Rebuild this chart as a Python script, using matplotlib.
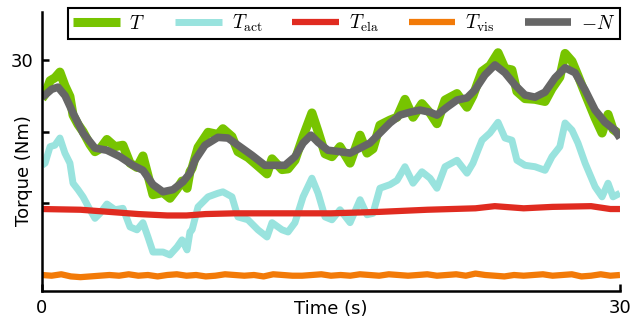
import numpy as np
import matplotlib
matplotlib.use("Agg")
import matplotlib.pyplot as plt

plt.rcParams['mathtext.fontset'] = 'cm'
plt.rcParams['font.family'] = 'DejaVu Sans'

# total torque and actuator torque, sampled together
t_fast = [0, 0.16, 0.42, 0.67, 0.93, 1.19, 1.45, 1.61, 1.87, 2.13, 2.49, 2.75, 3.01, 3.37,
          3.79, 4.20, 4.57, 4.93, 5.24, 5.50, 5.76, 6.28, 6.64, 7.01, 7.27, 7.53, 7.68, 7.79,
          8.10, 8.62, 9.13, 9.39, 9.86, 10.17, 10.69, 11.21, 11.68, 11.94, 12.46, 12.77, 13.13,
          13.55, 14.01, 14.33, 14.69, 15.05, 15.47, 15.99, 16.51, 16.87, 17.18, 17.54, 18.06,
          18.43, 18.84, 19.26, 19.72, 20.14, 20.50, 20.92, 21.54, 22.06, 22.37, 22.63, 22.84,
          23.25, 23.67, 24.03, 24.39, 24.65, 25.07, 25.59, 26.11, 26.47, 26.88, 27.15, 27.51,
          27.82, 28.19, 28.71, 29.07, 29.38, 29.64, 30.0]
T_act = [15.3, 15.6, 17.9, 18.1, 19.1, 17.0, 15.6, 12.8, 11.9, 10.9, 9.1, 7.9, 8.6, 9.9,
         9.1, 9.3, 6.7, 6.3, 7.3, 5.3, 3.2, 3.2, 2.8, 3.9, 4.9, 3.5, 6.0, 6.3,
         9.5, 10.9, 11.4, 11.6, 10.9, 8.1, 7.7, 6.3, 5.3, 7.3, 6.3, 6.0, 7.3,
         10.9, 13.5, 11.4, 8.1, 7.7, 9.1, 7.3, 10.5, 8.4, 8.6, 12.1, 12.6,
         13.2, 15.1, 12.8, 14.4, 13.5, 12.1, 15.1, 16.0, 14.2, 15.6, 17.4, 18.8,
         19.8, 21.3, 19.1, 18.8, 16.0, 15.3, 15.1, 14.6, 16.5, 17.9, 21.2, 20.2,
         18.4, 15.6, 12.3, 10.9, 12.8, 10.9, 11.4]
T_total = [24.6, 25.2, 27.1, 27.5, 28.3, 26.4, 24.9, 22.3, 21.0, 20.0, 18.2, 17.2, 17.6, 18.9,
           17.9, 18.1, 15.6, 15.0, 16.6, 13.9, 11.2, 11.5, 10.7, 12.0, 13.1, 12.1, 14.4, 14.9,
           17.8, 19.9, 19.6, 20.4, 19.3, 17.2, 16.4, 15.2, 14.1, 16.2, 14.7, 14.8, 16.0,
           19.3, 22.6, 20.0, 16.9, 16.5, 17.9, 15.6, 19.5, 17.0, 17.6, 20.9, 21.6,
           22.0, 24.5, 22.0, 23.9, 22.6, 21.1, 24.4, 25.3, 23.4, 25.0, 26.9, 28.4,
           29.2, 31.0, 28.8, 28.6, 25.6, 24.6, 24.5, 24.2, 26.0, 27.6, 30.9, 29.8,
           27.8, 25.3, 21.9, 19.8, 22.4, 20.3, 19.6]

# normal force (sign flipped), smooth
t_N = [0, 0.2, 0.5, 0.83, 1.2, 1.61, 2.13, 2.75, 3.37, 4.05, 4.72, 5.24, 5.76, 6.28, 6.80,
       7.32, 7.68, 7.94, 8.46, 9.13, 9.65, 10.38, 10.90, 11.57, 12.09, 12.61, 13.13, 13.55,
       13.96, 14.33, 14.84, 15.47, 15.99, 16.51, 17.02, 17.54, 18.06, 18.58, 19.10, 19.62,
       20.14, 20.50, 21.02, 21.54, 22.06, 22.47, 22.99, 23.51, 24.03, 24.55, 25.07, 25.59,
       26.11, 26.63, 27.15, 27.67, 28.19, 28.71, 29.22, 29.74, 30.0]
neg_N = [24.8, 25.2, 25.9, 26.2, 25.0, 22.6, 19.8, 17.7, 17.4, 16.5, 15.3, 14.6, 12.6, 11.6,
         11.9, 13.0, 14.2, 16.0, 18.1, 19.2, 19.1, 17.7, 16.7, 15.3, 15.3, 15.3, 16.5, 18.4,
         19.5, 18.5, 17.4, 17.2, 17.0, 17.7, 18.4, 19.8, 21.2, 22.3, 22.7, 23.0,
         22.7, 22.3, 23.4, 24.4, 24.7, 25.8, 27.9, 29.3, 28.2, 26.5, 25.1, 24.8,
         25.5, 27.5, 28.9, 28.2, 25.8, 23.0, 21.3, 20.2, 19.1]

# elastic torque
t_ela = [0, 2.0, 3.0, 5.0, 6.5, 7.5, 8.5, 10.0, 12.0, 15.0, 17.5, 20.0, 22.5, 23.5, 25.0,
         26.5, 28.5, 29.5, 30.0]
T_ela = [9.2, 9.1, 8.9, 8.5, 8.3, 8.3, 8.5, 8.6, 8.6, 8.6, 8.8, 9.1, 9.3, 9.6, 9.3,
         9.5, 9.6, 9.2, 9.2]

# viscous torque
t_vis = [0, 0.5, 1, 1.5, 2, 2.5, 3, 3.5, 4, 4.5, 5, 5.5, 6, 6.5, 7, 7.5, 8, 8.5, 9, 9.5, 10,
         10.5, 11, 11.5, 12, 12.5, 13, 13.5, 14, 14.5, 15, 15.5, 16, 16.5, 17, 17.5, 18, 18.5,
         19, 19.5, 20, 20.5, 21, 21.5, 22, 22.5, 23, 23.5, 24, 24.5, 25, 25.5, 26, 26.5, 27,
         27.5, 28, 28.5, 29, 29.5, 30]
T_vis = [0.0, -0.1, 0.1, -0.2, -0.3, -0.2, -0.1, 0.0, -0.1, 0.1, -0.1, 0.0, -0.2, 0.0, 0.1,
         -0.1, 0.0, -0.2, -0.1, 0.1, 0.0, -0.1, 0.0, -0.2, 0.1, 0.0, -0.1, -0.1, 0.0, 0.1,
         -0.1, 0.0, -0.1, 0.1, 0.0, -0.1, 0.1, 0.0, -0.1, 0.0, 0.1, -0.1, 0.0, 0.1, -0.1,
         0.2, 0.0, -0.1, -0.2, 0.0, -0.1, 0.0, 0.1, -0.1, 0.0, 0.1, -0.2, -0.1, 0.1, -0.1, 0.0]

fig = plt.figure(figsize=(6.44, 3.24), dpi=100)
ax = fig.add_axes([0.0652, 0.1019, 0.8975, 0.8611])

style = dict(solid_capstyle='butt', solid_joinstyle='round')
ax.plot(t_fast, T_total, color='#77c400', lw=6.5, label=r'$T$', **style)
ax.plot(t_fast, T_act, color='#99e3de', lw=5.0, label=r'$T_\mathrm{act}$', **style)
ax.plot(t_ela, T_ela, color='#e02b20', lw=4.5, label=r'$T_\mathrm{ela}$', **style)
ax.plot(t_vis, T_vis, color='#f27a08', lw=4.5, label=r'$T_\mathrm{vis}$', **style)
ax.plot(t_N, neg_N, color='#666666', lw=5.5, label=r'$-N$', **style)

ax.set_xlim(0, 30)
ax.set_ylim(-2.23, 36.68)
ax.set_xticks([0, 30])
ax.set_xticklabels(['0', '30'])
ax.set_yticks([0, 10, 20, 30])
ax.set_yticklabels(['', '', '', '30'])
ax.tick_params(direction='in', length=5, width=1.8, labelsize=13, pad=6)

for s in ['top', 'right']:
    ax.spines[s].set_visible(False)
for s in ['left', 'bottom']:
    ax.spines[s].set_linewidth(1.8)

ax.set_xlabel('Time (s)', fontsize=13)
ax.xaxis.set_label_coords(0.5, -0.064)
ax.xaxis.label.set_va('center')
ax.set_ylabel('Torque (Nm)', fontsize=13)
ax.yaxis.set_label_coords(-0.031, 0.43)
ax.yaxis.label.set_va('center')

leg = ax.legend(loc='lower left', bbox_to_anchor=(0.045, 0.903, 0.955, 0.1), mode='expand',
                ncol=5, fontsize=14, handlelength=2.4, handletextpad=0.5, borderpad=0.25,
                borderaxespad=0, fancybox=False, framealpha=1, edgecolor='black')
leg.get_frame().set_linewidth(1.5)

fig.savefig('out.png', dpi=100)
